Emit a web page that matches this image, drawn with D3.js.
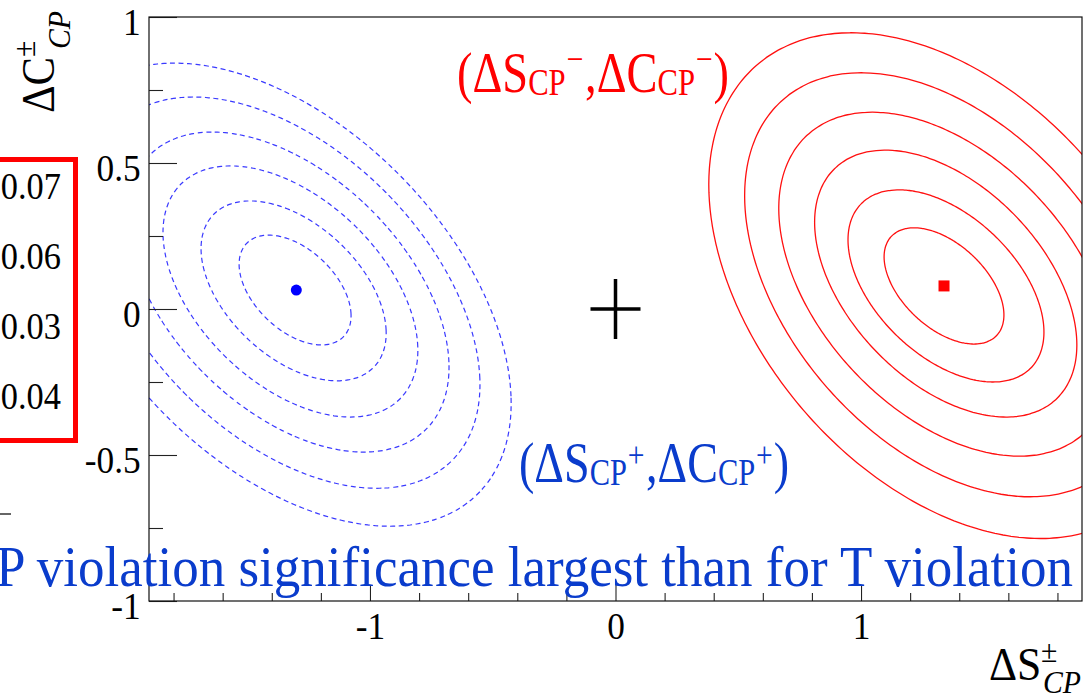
<!DOCTYPE html>
<html>
<head>
<meta charset="utf-8">
<script src="https://cdn.jsdelivr.net/npm/d3@7"></script>
<style>
  body { margin: 0; background: #fff; }
  svg { display: block; font-family: "Liberation Serif", "Times New Roman", serif; }
</style>
</head>
<body>
<div id="chart"></div>
<script>
// axis ticks
var xMajorTicks = [-1, 0, 1];
var xMinorTicks = [-1.8, -1.6, -1.4, -1.2, -0.8, -0.6, -0.4, -0.2, 0.2, 0.4, 0.6, 0.8, 1.2, 1.4, 1.6, 1.8];
var yMajorTicks = [-1, -0.5, 0, 0.5, 1];
var yMinorTicks = [-0.75, -0.25, 0.25, 0.75];

// contour rings (centre, half extents, correlation)
var blueRings = [
  { cx: -1.305, cy: 0.065, hx: 0.228, hy: 0.188, rho: -0.47 },
  { cx: -1.311, cy: 0.062, hx: 0.377, hy: 0.308, rho: -0.47 },
  { cx: -1.324, cy: 0.060, hx: 0.519, hy: 0.430, rho: -0.47 },
  { cx: -1.334, cy: 0.058, hx: 0.656, hy: 0.548, rho: -0.47 },
  { cx: -1.346, cy: 0.056, hx: 0.794, hy: 0.670, rho: -0.47 },
  { cx: -1.358, cy: 0.049, hx: 0.933, hy: 0.793, rho: -0.47 }
];
var redRings = [
  { cx: 1.338, cy: 0.079, hx: 0.244, hy: 0.199, rho: -0.50 },
  { cx: 1.346, cy: 0.079, hx: 0.399, hy: 0.329, rho: -0.48 },
  { cx: 1.345, cy: 0.087, hx: 0.534, hy: 0.457, rho: -0.46 },
  { cx: 1.345, cy: 0.085, hx: 0.680, hy: 0.589, rho: -0.44 },
  { cx: 1.345, cy: 0.083, hx: 0.819, hy: 0.726, rho: -0.42 },
  { cx: 1.345, cy: 0.080, hx: 0.965, hy: 0.866, rho: -0.40 }
];

// best fit points
var bluePoint = [-1.30, 0.065];
var redPoint = [1.338, 0.079];
var smPoint = [0, 0];

// numbers in the red box on the left
var boxValues = ['0.07', '0.06', '0.03', '0.04'];

var W = 1092, H = 698;
var SQ = 0.93; // text in the picture is a bit narrow

var svg = d3.select('#chart').append('svg').attr('width', W).attr('height', H);

var x = d3.scaleLinear().domain([-1.9, 1.9]).range([149, 1082]);
var y = d3.scaleLinear().domain([-1, 1]).range([601, 17]);

svg.append('defs').append('clipPath').attr('id', 'plotclip')
  .append('rect')
  .attr('x', x(-1.9)).attr('y', y(1))
  .attr('width', x(1.9) - x(-1.9)).attr('height', y(-1) - y(1));

// small text helper: squeezed horizontally like the original
const addText = (g, px, py, str, size, opts) => {
  opts = opts || {};
  const t = g.append('g')
    .attr('transform', 'translate(' + px + ',' + py + ') scale(' + SQ + ',1)')
    .append('text')
    .attr('font-size', size)
    .attr('fill', opts.fill || '#000')
    .attr('text-anchor', opts.anchor || 'start')
    .text(str);
  if (opts.italic) t.attr('font-style', 'italic');
  return t;
};

// label made of pieces laid out one after another, then fitted to a width
const richLabel = (px, py, pieces, width, color) => {
  const g = svg.append('g');
  let cursor = 0;
  pieces.forEach((p) => {
    cursor += p.gap || 0;
    const t = g.append('text')
      .attr('x', cursor).attr('y', p.dy || 0)
      .attr('font-size', p.size)
      .attr('fill', color)
      .text(p.text);
    cursor += t.node().getComputedTextLength();
  });
  g.attr('transform', 'translate(' + px + ',' + py + ') scale(' + (width / cursor) + ',1)');
  return g;
};

// contours
const ringPath = (r) => {
  const s = Math.sqrt(1 - r.rho * r.rho);
  const pts = d3.range(0, 360, 2).map((deg) => {
    const t = deg * Math.PI / 180;
    return [r.cx + r.hx * Math.cos(t), r.cy + r.hy * (r.rho * Math.cos(t) + s * Math.sin(t))];
  });
  return d3.line().x((d) => x(d[0])).y((d) => y(d[1])).curve(d3.curveCardinalClosed.tension(0.5))(pts);
};

var plot = svg.append('g').attr('clip-path', 'url(#plotclip)');

plot.selectAll('path.blue').data(blueRings).enter().append('path')
  .attr('class', 'blue')
  .attr('d', ringPath)
  .attr('fill', 'none')
  .attr('stroke', '#3a3aff')
  .attr('stroke-width', 1.2)
  .attr('stroke-dasharray', '5,3.5');

plot.selectAll('path.red').data(redRings).enter().append('path')
  .attr('class', 'red')
  .attr('d', ringPath)
  .attr('fill', 'none')
  .attr('stroke', '#ff1010')
  .attr('stroke-width', 1.3);

// markers
plot.append('circle')
  .attr('cx', x(bluePoint[0])).attr('cy', y(bluePoint[1]))
  .attr('r', 5.5).attr('fill', '#0000ff');

plot.append('rect')
  .attr('x', x(redPoint[0]) - 5.5).attr('y', y(redPoint[1]) - 5.5)
  .attr('width', 11).attr('height', 11).attr('fill', '#ff0000');

plot.append('path')
  .attr('d', 'M' + (x(smPoint[0]) - 25) + ',' + y(smPoint[1]) + 'h50' +
             'M' + x(smPoint[0]) + ',' + (y(smPoint[1]) - 30) + 'v60')
  .attr('stroke', '#000').attr('stroke-width', 3.5).attr('fill', 'none');

// axes (ticks inside the frame, ROOT style)
const fmt = (d) => String(d);

const yAxisMajor = svg.append('g').attr('transform', 'translate(' + x(-1.9) + ',0)')
  .call(d3.axisLeft(y).tickValues(yMajorTicks).tickSize(-28).tickPadding(9).tickFormat(fmt));
const yAxisMinor = svg.append('g').attr('transform', 'translate(' + x(-1.9) + ',0)')
  .call(d3.axisLeft(y).tickValues(yMinorTicks).tickSize(-14).tickFormat(''));
const xAxisMajor = svg.append('g').attr('transform', 'translate(0,' + y(-1) + ')')
  .call(d3.axisBottom(x).tickValues(xMajorTicks).tickSize(-16).tickPadding(11).tickFormat(fmt));
const xAxisMinor = svg.append('g').attr('transform', 'translate(0,' + y(-1) + ')')
  .call(d3.axisBottom(x).tickValues(xMinorTicks).tickSize(-8).tickFormat(''));

[yAxisMajor, yAxisMinor, xAxisMajor, xAxisMinor].forEach((g) => {
  g.select('.domain').remove();
  g.selectAll('line').attr('stroke', '#222').attr('stroke-width', 1.1);
  g.selectAll('text')
    .attr('font-family', '"Liberation Serif", "Times New Roman", serif')
    .attr('font-size', 38)
    .attr('fill', '#000');
});
yAxisMajor.selectAll('text').attr('dy', '0.45em')
  .attr('transform', 'scale(' + SQ + ',1)');
xAxisMajor.selectAll('text').attr('transform', 'scale(' + SQ + ',1)');

// frame
svg.append('rect')
  .attr('x', x(-1.9)).attr('y', y(1))
  .attr('width', x(1.9) - x(-1.9)).attr('height', y(-1) - y(1))
  .attr('fill', 'none').attr('stroke', '#111').attr('stroke-width', 1.2);

// axis titles
var xt = svg.append('g');
addText(xt, 989, 680, 'ΔS', 47);
addText(xt, 1041, 662, '±', 32);
addText(xt, 1043, 693, 'CP', 32, { italic: true });

var yt = svg.append('g').attr('transform', 'translate(54,113) rotate(-90)');
addText(yt, 0, 0, 'ΔC', 46);
addText(yt, 56, -19, '±', 32);
addText(yt, 64, 16, 'CP', 32, { italic: true });

// labels of the two solutions
var red = '#ff0000';
var blue = '#0a3ccc';

richLabel(457, 92, [
  { text: '(ΔS', size: 56 },
  { text: 'CP', size: 37, dy: 3 },
  { text: '−', size: 36, dy: -21, gap: 1 },
  { text: ',ΔC', size: 56, gap: 2 },
  { text: 'CP', size: 37, dy: 3 },
  { text: '−', size: 36, dy: -21, gap: 1 },
  { text: ')', size: 56, gap: 1 }
], 272, red);

richLabel(519, 482, [
  { text: '(ΔS', size: 56 },
  { text: 'CP', size: 37, dy: 3 },
  { text: '+', size: 36, dy: -15, gap: 1 },
  { text: ',ΔC', size: 56, gap: 2 },
  { text: 'CP', size: 37, dy: 3 },
  { text: '+', size: 36, dy: -15, gap: 1 },
  { text: ')', size: 56, gap: 1 }
], 270, blue);

// big blue statement across the bottom
addText(svg, 1073, 586, 'CP violation significance largest than for T violation', 57,
  { fill: blue, anchor: 'end' });

// red box on the left with numbers
svg.append('rect')
  .attr('x', -20).attr('y', 159.5).attr('width', 95.5).attr('height', 281)
  .attr('fill', 'none').attr('stroke', red).attr('stroke-width', 5);

var boxBase = [199, 269, 339, 409];
boxValues.forEach((v, i) => {
  addText(svg, 61, boxBase[i], v, 37, { anchor: 'end' });
});

// leftover grey stroke at the left edge
svg.append('line')
  .attr('x1', 0).attr('x2', 11).attr('y1', 514).attr('y2', 514)
  .attr('stroke', '#666').attr('stroke-width', 2);
</script>
</body>
</html>
